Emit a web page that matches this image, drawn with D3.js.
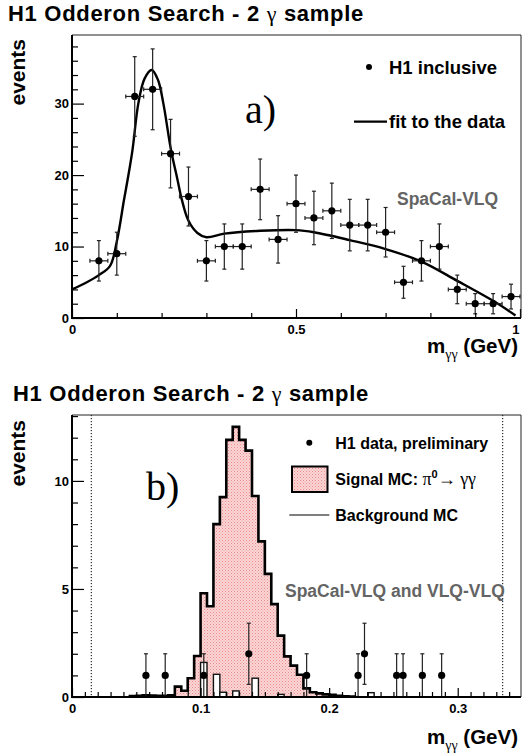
<!DOCTYPE html>
<html><head><meta charset="utf-8">
<script src="https://cdn.jsdelivr.net/npm/d3@7"></script>
<style>
body{margin:0;background:#fff;}
svg{display:block;font-family:"Liberation Sans",Arial,Helvetica,sans-serif;}
.tick text{font-family:"Liberation Sans",Arial,sans-serif;font-weight:bold;font-size:13px;fill:#000;}
</style></head>
<body>
<svg id="c" width="522" height="753"></svg>
<script>
// ---------- data: panel a ----------
const aX   = [0.06,0.10,0.14,0.18,0.22,0.26,0.30,0.34,0.38,0.42,0.46,0.50,0.54,0.58,0.62,0.66,0.70,0.74,0.78,0.82,0.86,0.90,0.94,0.98];
const aY   = [8,9,31,32,23,17,8,10,10,18,11,16,14,15,13,13,12,5,8,10,4,2,2,3];
const aHalfWidth = 0.02;
const fitX = [0,0.03,0.06,0.085,0.10,0.116,0.124,0.135,0.148,0.162,0.178,0.192,0.204,0.221,0.235,0.245,0.26,0.28,0.30,0.34,0.42,0.50,0.54,0.62,0.70,0.78,0.86,0.94,0.99];
const fitY = [4.0,4.9,6.0,7.3,10.7,16.5,19.3,23.5,30,33.5,34.7,33.3,30,23.5,19.5,16.6,13.6,11.9,11.3,11.8,12.2,12.3,12.0,10.9,9.65,7.9,5.2,2.4,0.35];
const aXMajor = [0,0.5,1];
const aXMajorLabels = ["0","0.5","1"];
const aXMinor = [0.1,0.2,0.3,0.4,0.6,0.7,0.8,0.9];
const aYMajor = [0,10,20,30];
const aYMinor = [2,4,6,8,12,14,16,18,22,24,26,28,32,34,36,38];

// ---------- data: panel b ----------
const binW = 0.005;
const sigEdges = [0.045,0.050,0.055,0.060,0.065,0.070,0.075,0.080,0.085,0.090,0.095,0.100,0.105,0.110,0.115,0.120,0.125,0.130,0.135,0.140,0.145,0.150,0.155,0.160,0.165,0.170,0.175,0.180,0.185,0.190,0.195,0.200,0.205,0.210,0.215];
const sigVals  = [0.04,0.06,0.08,0.07,0.05,0.06,0.08,0.48,0.29,0.87,1.9,4.8,4.2,8.0,9.25,11.9,12.5,11.9,11.4,9.3,7.2,5.7,4.3,2.84,1.88,1.45,1.03,0.40,0.22,0.17,0.12,0.10,0.05,0.03,0.02];
const bkgEdges = [0.100,0.110,0.115,0.125,0.140,0.160,0.230];
const bkgVals  = [1.6,1.05,0.22,0.28,0.87,0.12,0.2];
const bX = [0.0575,0.0725,0.1025,0.1375,0.1825,0.2225,0.2275,0.2525,0.2575,0.2725,0.2875];
const bY = [1,1,1,2,1,1,2,1,1,1,1];
const cutLines = [0.015,0.335];
const bXMajor = [0,0.1,0.2,0.3];
const bXMajorLabels = ["0","0.1","0.2","0.3"];
const bXMinor = [0.01,0.02,0.03,0.04,0.05,0.06,0.07,0.08,0.09,0.11,0.12,0.13,0.14,0.15,0.16,0.17,0.18,0.19,0.21,0.22,0.23,0.24,0.25,0.26,0.27,0.28,0.29,0.31,0.32,0.33,0.34];
const bYMajor = [0,5,10];
const bYMinor = [1,2,3,4,6,7,8,9,11,12,13];

const svg = d3.select("#c");
const defs = svg.append("defs");
const pat = defs.append("pattern").attr("id","pk").attr("width",3).attr("height",3).attr("patternUnits","userSpaceOnUse");
pat.append("rect").attr("width",3).attr("height",3).attr("fill","#fbd6d6");
pat.append("rect").attr("x",0).attr("y",0).attr("width",1).attr("height",1).attr("fill","#ec8a8a");
pat.append("rect").attr("x",1.5).attr("y",1.5).attr("width",1).attr("height",1).attr("fill","#f0a0a0");

const BOLD = "bold";
function title(y, x){
  const t = svg.append("text").attr("x",x).attr("y",y).attr("font-size",22).attr("font-weight",BOLD).attr("letter-spacing",0.7);
  t.append("tspan").text("H1 Odderon Search - 2 ");
  t.append("tspan").attr("font-family","'Liberation Serif',serif").attr("font-weight","normal").text("γ");
  t.append("tspan").text(" sample");
}
function mlabel(y){
  const t = svg.append("text").attr("x",518).attr("y",y).attr("text-anchor","end").attr("font-size",20.5).attr("font-weight",BOLD);
  t.append("tspan").text("m");
  t.append("tspan").attr("font-family","'Liberation Serif',serif").attr("font-weight","normal").attr("font-size",14).attr("dy",6).text("γγ");
  t.append("tspan").attr("dy",-6).text(" (GeV)");
}
function events(yEnd){
  svg.append("text").attr("transform",`translate(25,${yEnd}) rotate(-90)`).attr("text-anchor","end")
    .attr("font-size",21).attr("font-weight",BOLD).text("events");
}
function axes(x, y, xMaj, xLab, xMin, yMaj, yMin, x0, x1, y0, y1){
  const g = svg.append("g");
  g.append("g").attr("transform",`translate(0,${y0})`).call(d3.axisBottom(x).tickValues(xMin).tickSize(-5).tickFormat("")).call(s=>s.select(".domain").remove());
  const xg = g.append("g").attr("transform",`translate(0,${y0})`).call(d3.axisBottom(x).tickValues(xMaj).tickSize(-9).tickPadding(7).tickFormat((d,i)=>xLab[i])).call(s=>s.select(".domain").remove());
  xg.selectAll(".tick text").filter(d=>x(d)>x1-6).attr("text-anchor","end").attr("dx",-1);
  g.append("g").attr("transform",`translate(${x0},0)`).call(d3.axisLeft(y).tickValues(yMin).tickSize(-6).tickFormat("")).call(s=>s.select(".domain").remove());
  g.append("g").attr("transform",`translate(${x0},0)`).call(d3.axisLeft(y).tickValues(yMaj).tickSize(-12).tickPadding(3).tickFormat(d3.format("d"))).call(s=>s.select(".domain").remove());
  g.selectAll(".tick line").attr("stroke","#000").attr("stroke-width",1.2);
  svg.append("line").attr("x1",x0).attr("x2",x1).attr("y1",y1).attr("y2",y1).attr("stroke","#222").attr("stroke-width",1);
  svg.append("line").attr("x1",x1).attr("x2",x1).attr("y1",y1).attr("y2",y0).attr("stroke","#222").attr("stroke-width",1);
  svg.append("line").attr("x1",x0).attr("x2",x0).attr("y1",y1).attr("y2",y0+1).attr("stroke","#000").attr("stroke-width",2);
  svg.append("line").attr("x1",x0-1).attr("x2",x1).attr("y1",y0).attr("y2",y0).attr("stroke","#000").attr("stroke-width",2);
}

// ================= Panel a =================
const xA = d3.scaleLinear().domain([0,1]).range([72,520]);
const yA = d3.scaleLinear().domain([0,39.6]).range([318,35]);
title(20.5, 8);
events(39);
mlabel(353);

const gA = svg.append("g");
gA.append("path").datum(fitX.map((x,i)=>[x,fitY[i]]))
  .attr("d", d3.line().x(d=>xA(d[0])).y(d=>yA(d[1])).curve(d3.curveCatmullRom.alpha(0.5)))
  .attr("fill","none").attr("stroke","#000").attr("stroke-width",2.4);
aX.forEach((x,i)=>{
  const v=aY[i], e=Math.sqrt(v);
  const cx=xA(x), cy=yA(v);
  const g=gA.append("g").attr("stroke","#222").attr("stroke-width",1.2);
  g.append("line").attr("x1",cx).attr("x2",cx).attr("y1",yA(v+e)).attr("y2",yA(Math.max(0,v-e)));
  g.append("line").attr("x1",cx-2).attr("x2",cx+2).attr("y1",yA(v+e)).attr("y2",yA(v+e));
  if(v-e>0) g.append("line").attr("x1",cx-2).attr("x2",cx+2).attr("y1",yA(v-e)).attr("y2",yA(v-e));
  g.append("line").attr("x1",xA(x-aHalfWidth)).attr("x2",xA(x+aHalfWidth)).attr("y1",cy).attr("y2",cy);
  g.append("line").attr("x1",xA(x-aHalfWidth)).attr("x2",xA(x-aHalfWidth)).attr("y1",cy-2).attr("y2",cy+2);
  g.append("line").attr("x1",xA(x+aHalfWidth)).attr("x2",xA(x+aHalfWidth)).attr("y1",cy-2).attr("y2",cy+2);
  gA.append("circle").attr("cx",cx).attr("cy",cy).attr("r",3.6).attr("fill","#000");
});
axes(xA,yA,aXMajor,aXMajorLabels,aXMinor,aYMajor,aYMinor,72,521,318,35);
svg.append("circle").attr("cx",369).attr("cy",67).attr("r",3).attr("fill","#000");
svg.append("text").attr("x",389).attr("y",73.5).attr("font-size",18.5).attr("font-weight",BOLD).text("H1 inclusive");
svg.append("line").attr("x1",354).attr("x2",387).attr("y1",121.7).attr("y2",121.7).attr("stroke","#000").attr("stroke-width",2.2);
svg.append("text").attr("x",389).attr("y",128).attr("font-size",18.5).attr("font-weight",BOLD).text("fit to the data");
svg.append("text").attr("x",245).attr("y",123).attr("font-size",40).attr("font-family","'Liberation Serif',serif").text("a)");
svg.append("text").attr("x",397).attr("y",205).attr("font-size",17.5).attr("font-weight",BOLD).attr("fill","#646464").text("SpaCal-VLQ");

// ================= Panel b =================
const xB = d3.scaleLinear().domain([0,0.35]).range([72,522]);
const yB = d3.scaleLinear().domain([0,13.05]).range([697,415]);
title(400.5, 13);
events(420);
mlabel(744);

const gB = svg.append("g");
cutLines.forEach(c=>gB.append("line").attr("x1",xB(c)).attr("x2",xB(c)).attr("y1",415).attr("y2",697)
  .attr("stroke","#000").attr("stroke-width",1).attr("stroke-dasharray","1.2,1.8"));
function stepPts(edges, vals){
  const pts=[[edges[0],0]];
  edges.forEach((e,i)=>{pts.push([e,vals[i]]);pts.push([e+binW,vals[i]]);});
  pts.push([edges[edges.length-1]+binW,0]);
  return pts;
}
const sp = stepPts(sigEdges,sigVals);
const lineB = d3.line().x(d=>xB(d[0])).y(d=>yB(d[1]));
gB.append("path").datum(sp).attr("d",lineB).attr("fill","url(#pk)").attr("stroke","none");
bkgEdges.forEach((e,i)=>{
  gB.append("rect").attr("x",xB(e)).attr("width",xB(e+binW)-xB(e))
    .attr("y",yB(bkgVals[i])).attr("height",yB(0)-yB(bkgVals[i]))
    .attr("fill","#fff").attr("stroke","#111").attr("stroke-width",1.4);
});
gB.append("path").datum(sp).attr("d",lineB).attr("fill","none").attr("stroke","#000").attr("stroke-width",2.6).attr("stroke-linejoin","miter");
bX.forEach((x,i)=>{
  const v=bY[i], e=Math.sqrt(v), cx=xB(x);
  const g=gB.append("g").attr("stroke","#222").attr("stroke-width",1.2);
  g.append("line").attr("x1",cx).attr("x2",cx).attr("y1",yB(v+e)).attr("y2",yB(Math.max(0,v-e)));
  g.append("line").attr("x1",cx-2).attr("x2",cx+2).attr("y1",yB(v+e)).attr("y2",yB(v+e));
  if(v-e>0.05) g.append("line").attr("x1",cx-2).attr("x2",cx+2).attr("y1",yB(v-e)).attr("y2",yB(v-e));
  gB.append("circle").attr("cx",cx).attr("cy",yB(v)).attr("r",3.6).attr("fill","#000");
});
axes(xB,yB,bXMajor,bXMajorLabels,bXMinor,bYMajor,bYMinor,72,521,697,415);
svg.append("circle").attr("cx",309.3).attr("cy",442.7).attr("r",3).attr("fill","#000");
svg.append("text").attr("x",335.3).attr("y",448.5).attr("font-size",16).attr("font-weight",BOLD).text("H1 data, preliminary");
svg.append("rect").attr("x",292).attr("y",466.5).attr("width",35.5).attr("height",25.5).attr("fill","url(#pk)").attr("stroke","#000").attr("stroke-width",2);
const sl = svg.append("text").attr("x",335.3).attr("y",485).attr("font-size",16).attr("font-weight",BOLD);
sl.append("tspan").text("Signal MC: ");
sl.append("tspan").attr("font-family","'Liberation Serif',serif").attr("font-weight","normal").attr("font-size",18).text("π");
sl.append("tspan").attr("font-size",11).attr("dy",-7).text("0");
sl.append("tspan").attr("font-family","'Liberation Serif',serif").attr("font-weight","normal").attr("font-size",18).attr("dy",7).text("→ γγ");
svg.append("line").attr("x1",289.3).attr("x2",329.3).attr("y1",515).attr("y2",515).attr("stroke","#000").attr("stroke-width",1.2);
svg.append("text").attr("x",335.3).attr("y",520.5).attr("font-size",16).attr("font-weight",BOLD).text("Background MC");
svg.append("text").attr("x",146).attr("y",500).attr("font-size",40).attr("font-family","'Liberation Serif',serif").text("b)");
svg.append("text").attr("x",285).attr("y",596.7).attr("font-size",17.5).attr("font-weight",BOLD).attr("fill","#646464").text("SpaCal-VLQ and VLQ-VLQ");
</script>
</body></html>
